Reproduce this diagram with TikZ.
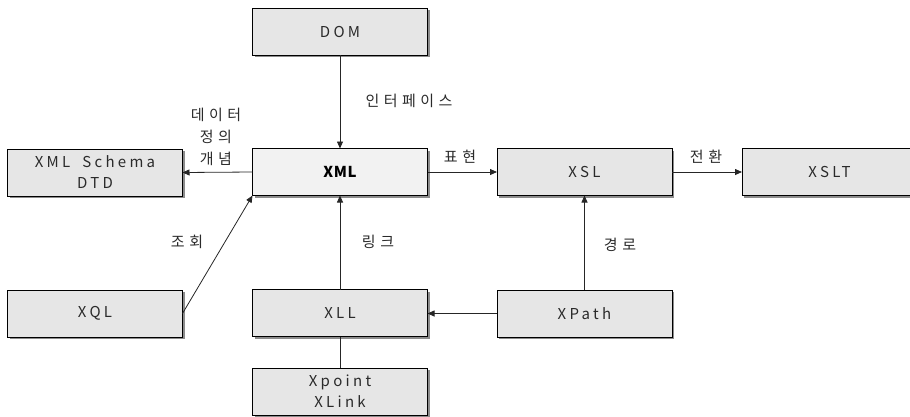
\documentclass[tikz,border=0pt]{standalone}
\usepackage{fontspec}
\setmainfont{Noto Sans CJK KR}[LetterSpace=22,WordSpace=1.8]
\newfontfamily\hangul{Noto Sans CJK KR}[LetterSpace=30]
\usetikzlibrary{arrows.meta,shadows}
\definecolor{boxfill}{HTML}{E6E6E6}
\definecolor{hubfill}{HTML}{F2F2F2}
\definecolor{inkgray}{HTML}{2A2A2A}
\tikzset{
  box/.style={draw=black, line width=0.9pt, fill=boxfill,
    minimum width=175pt, minimum height=47pt, inner sep=0pt, outer sep=0pt,
    align=center, font=\fontsize{15}{21}\selectfont, text=inkgray,
    drop shadow={shadow xshift=2pt, shadow yshift=-2pt, fill=black!45, opacity=1}},
  hub/.style={box, fill=hubfill, font=\fontsize{15}{21}\selectfont\bfseries\addfontfeature{LetterSpace=4}, text=black},
  link/.style={line width=0.8pt, draw=black!85, -{Triangle[length=7pt,width=6pt]}},
  plain/.style={line width=0.8pt, draw=black!85},
  lbl/.style={font=\hangul\fontsize{15}{22}\selectfont, text=inkgray, align=center, inner sep=0pt}
}
\begin{document}
\begin{tikzpicture}[x=1pt,y=-1pt]
\useasboundingbox (0,0) rectangle (910,416);
\clip (0,0) rectangle (910,416);

% boxes
\node[box] (dom)    at (340,31.5)  {DOM};
\node[hub] (xml)    at (340,172)   {XML};
\node[box] (schema) at (95,172.5)  {XML Schema\\DTD};
\node[box] (xsl)    at (584.5,172) {XSL};
\node[box] (xslt)   at (829.5,172) {XSLT};
\node[box] (xql)    at (95,313.5)  {XQL};
\node[box] (xll)    at (340,313)   {XLL};
\node[box] (xpath)  at (584.5,313.5) {XPath};
\node[box] (xptr)   at (340,391.5) {Xpoint\\XLink};

% connectors
\draw[link] (dom.south) -- (xml.north);
\draw[link] (xml.west) -- (schema.east);
\draw[link] (xml.east) -- (xsl.west);
\draw[link] (xsl.east) -- (xslt.west);
\draw[link] (xql.east) -- (xml.south west);
\draw[link] (xll.north) -- (xml.south);
\draw[link] (xpath.west) -- (xll.east |- xpath.west);
\draw[link] (xpath.north) -- (xsl.south);
\draw[plain] (xll.south) -- (xptr.north);

% connector labels
\node[lbl] (l1) at (409,101) {인터페이스};
\node[lbl] (l2) at (216,137) {데이터\\정의\\개념};
\node[lbl] (l3) at (460,157) {표현};
\node[lbl] (l4) at (706,157) {전환};
\node[lbl] (l5) at (187,242) {조회};
\node[lbl] (l6) at (378,242) {링크};
\node[lbl] (l7) at (620,245) {경로};
\end{tikzpicture}
\end{document}
